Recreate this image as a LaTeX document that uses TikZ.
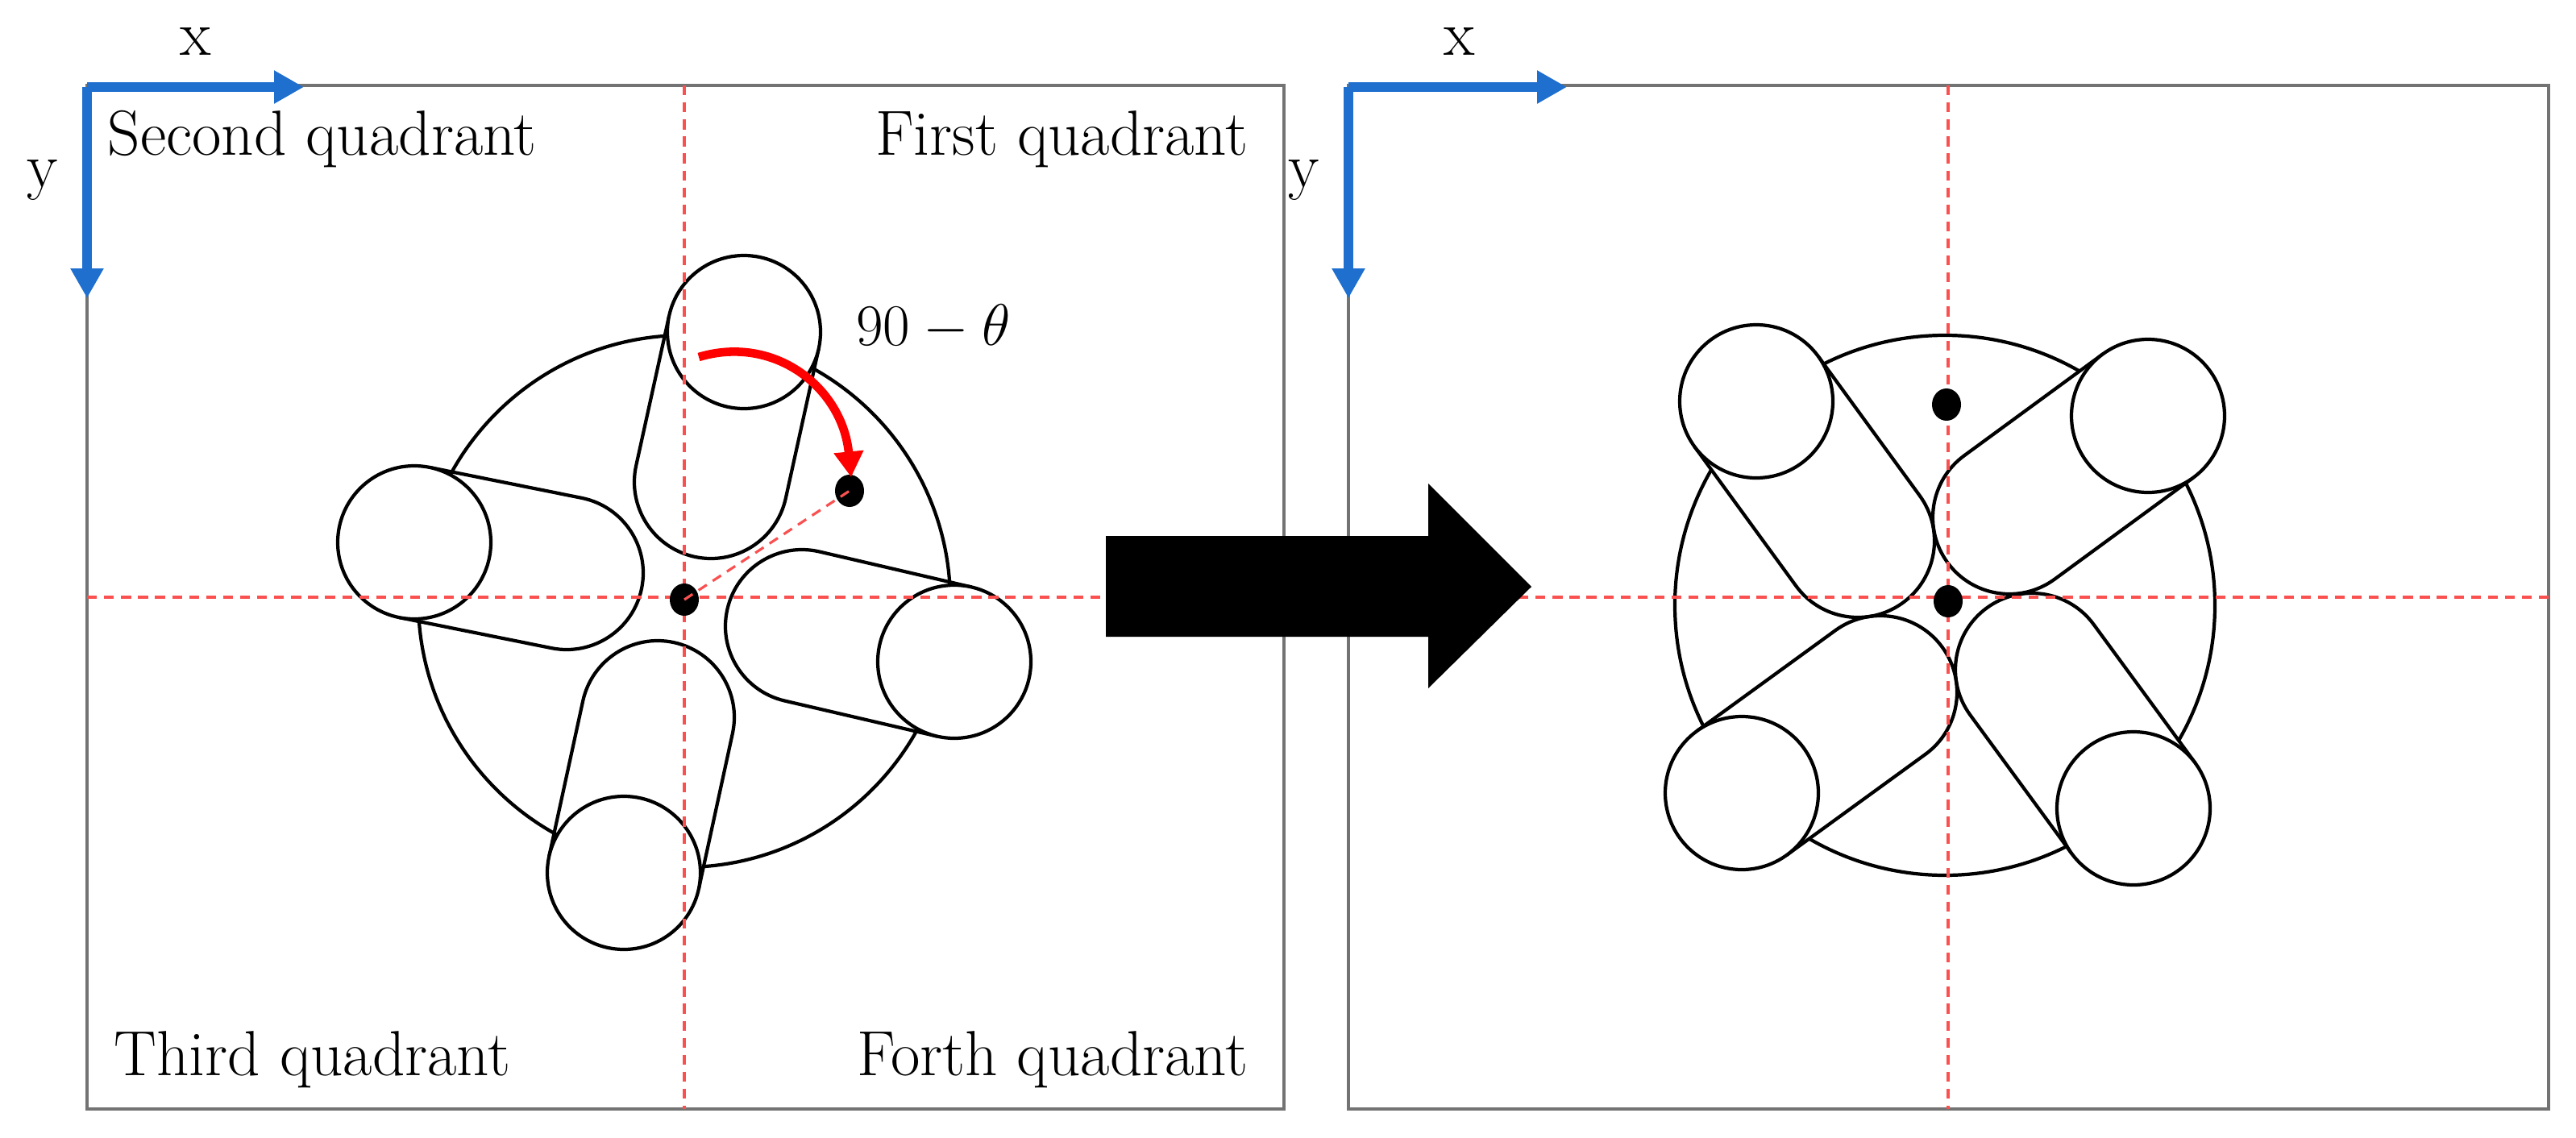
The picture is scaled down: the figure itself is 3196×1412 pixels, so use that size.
\documentclass[tikz,border=0pt]{standalone}
\usetikzlibrary{calc,arrows.meta,shapes.geometric}
\definecolor{axblue}{RGB}{31,111,207}
\definecolor{dashred}{RGB}{250,80,80}
\begin{document}
\begin{tikzpicture}[x=0.01cm,y=-0.01cm,
  frame/.style={draw=black!55,line width=0.9pt},
  axis/.style={draw=axblue,line width=3.4pt,-{Triangle[length=10.5pt,width=11pt]}},
  guide/.style={draw=dashred,line width=0.9pt,dash pattern=on 3.5pt off 2.5pt},
  part/.style={draw=black,fill=white,line width=1.2pt},
  lbl/.style={font=\fontsize{22.5}{26}\selectfont,inner sep=0pt},
  dot/.style={fill=black,ellipse,minimum width=0.36cm,minimum height=0.4cm,inner sep=0pt}]
\useasboundingbox (0,0) rectangle (3196,1412);
% frames
\draw[frame] (108,106) rectangle (1593,1376);
\draw[frame] (1673,106) rectangle (3162,1376);
% axes
\coordinate (o1) at (108,108); \coordinate (o2) at (1673,108);
\draw[axis] (o1) -- (377,108);
\draw[axis] (o1) -- (108,370);
\draw[axis] (o2) -- (1944,108);
\draw[axis] (o2) -- (1673,370);
\node[lbl,anchor=base] (xl) at (243,68) {x};
\node[lbl,anchor=base] (yl) at (53,232) {y};
\node[lbl,anchor=base] (xr) at (1811,68) {x};
\node[lbl,anchor=base] (yr) at (1618,232) {y};
% labels
\node[lbl,anchor=base west] (q2) at (133,192) {Second quadrant};
\node[lbl,anchor=base east] (q1) at (1549,192) {First quadrant};
\node[lbl,anchor=base west] (q3) at (141,1334) {Third quadrant};
\node[lbl,anchor=base east] (q4) at (1549,1334) {Forth quadrant};
% left disk and arms
\draw[part] (849,746) circle[radius=330];
\foreach \ix/\iy/\ox/\oy in {882/598/923/412, 995/777/1184/821, 816/890/774/1083, 703/711/514/673}{
  \pgfmathsetmacro\a{atan2(\oy-\iy,\ox-\ix)}
  \fill[white] ($(\ox,\oy)+(\a-90:95)$) -- ($(\ix,\iy)+(\a-90:95)$)
     arc[start angle=\a-90,end angle=\a-270,radius=95] -- cycle;
}
\foreach \ix/\iy/\ox/\oy in {882/598/923/412, 995/777/1184/821, 816/890/774/1083, 703/711/514/673}{
  \pgfmathsetmacro\a{atan2(\oy-\iy,\ox-\ix)}
  \draw[line width=1.2pt] ($(\ox,\oy)+(\a-90:95)$) -- ($(\ix,\iy)+(\a-90:95)$)
     arc[start angle=\a-90,end angle=\a-270,radius=95]
     -- ($(\ox,\oy)+(\a+90:95)$);
  \draw[part] (\ox,\oy) circle[radius=95];
}
% right disk and arms
\draw[part] (2413,751) circle[radius=335];
\foreach \ix/\iy/\ox/\oy in {2493/642/2665/516, 2521/831/2647/1003, 2333/859/2161/984, 2305/671/2179/498}{
  \pgfmathsetmacro\a{atan2(\oy-\iy,\ox-\ix)}
  \fill[white] ($(\ox,\oy)+(\a-90:95)$) -- ($(\ix,\iy)+(\a-90:95)$)
     arc[start angle=\a-90,end angle=\a-270,radius=95] -- cycle;
}
\foreach \ix/\iy/\ox/\oy in {2493/642/2665/516, 2521/831/2647/1003, 2333/859/2161/984, 2305/671/2179/498}{
  \pgfmathsetmacro\a{atan2(\oy-\iy,\ox-\ix)}
  \draw[line width=1.2pt] ($(\ox,\oy)+(\a-90:95)$) -- ($(\ix,\iy)+(\a-90:95)$)
     arc[start angle=\a-90,end angle=\a-270,radius=95]
     -- ($(\ox,\oy)+(\a+90:95)$);
  \draw[part] (\ox,\oy) circle[radius=95];
}
% guides
\draw[guide] (849,106) -- (849,1376);
\draw[guide] (108,741) -- (1593,741);
\draw[guide] (2417,106) -- (2417,1376);
\draw[guide] (1673,741) -- (3162,741);
% dots
\node[dot] (c1) at (849,744) {};
\node[dot] (p1) at (1054,609) {};
\node[dot] (c2) at (2417,746) {};
\node[dot] (p2) at (2415,502) {};
\draw[guide] (c1.center) -- (p1.center);
% rotation arrow
\coordinate (rs) at (867,443);
\coordinate (re) at (1056,592);
\draw[draw=red,line width=3pt,-{Triangle[length=9pt,width=10pt]}] (rs) .. controls (960,415) and (1045,480) .. (re);
\node[lbl,anchor=base] (ang) at (1158,428) {$90-\theta$};
% big arrow
\fill[black] (1372,665) -- (1772,665) -- (1772,600) -- (1900,728) -- (1772,854) -- (1772,790) -- (1372,790) -- cycle;
\end{tikzpicture}
\end{document}
